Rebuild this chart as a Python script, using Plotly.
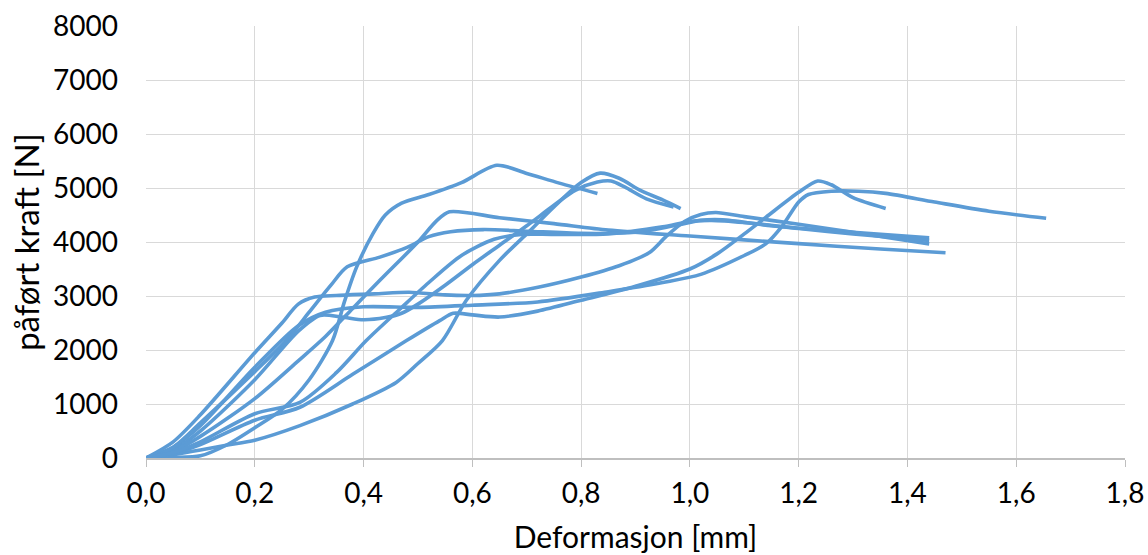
import plotly.graph_objects as go

# ---- data ----
a_x = [0, 0.05, 0.1, 0.15, 0.2, 0.25, 0.3, 0.343, 0.365, 0.387, 0.417, 0.44, 0.47, 0.52, 0.58, 0.645, 0.7, 0.76, 0.83]
a_y = [0, 10, 40, 250, 560, 900, 1450, 2175, 2900, 3530, 4150, 4500, 4720, 4880, 5100, 5420, 5270, 5090, 4900]

b_x = [0, 0.05, 0.1, 0.15, 0.2, 0.283, 0.38, 0.46, 0.5, 0.545, 0.589, 0.65, 0.7, 0.75, 0.8, 0.835, 0.87, 0.91, 0.95, 0.983]
b_y = [0, 60, 150, 240, 330, 600, 1000, 1400, 1750, 2175, 2920, 3660, 4150, 4650, 5100, 5275, 5180, 4950, 4780, 4620]

c_x = [0, 0.05, 0.1, 0.2, 0.28, 0.32, 0.36, 0.4, 0.44, 0.47, 0.5, 0.55, 0.6, 0.65, 0.7, 0.75, 0.79, 0.83, 0.855, 0.88, 0.92, 0.97]
c_y = [0, 150, 500, 1450, 2350, 2640, 2610, 2560, 2600, 2680, 2850, 3200, 3580, 3940, 4300, 4680, 4960, 5110, 5130, 5020, 4800, 4650]

d_x = [0, 0.05, 0.1, 0.2, 0.283, 0.38, 0.479, 0.54, 0.565, 0.6, 0.65, 0.72, 0.8, 0.9, 1.0, 1.05, 1.1, 1.14, 1.2, 1.235, 1.26, 1.3, 1.36]
d_y = [0, 80, 250, 700, 940, 1550, 2175, 2545, 2680, 2650, 2610, 2720, 2920, 3180, 3500, 3780, 4150, 4460, 4920, 5130, 5060, 4820, 4620]

e_x = [0, 0.05, 0.1, 0.2, 0.28, 0.33, 0.4, 0.5, 0.6, 0.72, 0.85, 0.95, 1.02, 1.1, 1.14, 1.17, 1.2, 1.218, 1.26, 1.31, 1.36, 1.45, 1.55, 1.655]
e_y = [0, 200, 600, 1680, 2450, 2700, 2800, 2790, 2830, 2890, 3080, 3250, 3400, 3750, 3970, 4300, 4740, 4880, 4940, 4940, 4900, 4740, 4570, 4440]

f_x = [0, 0.05, 0.1, 0.2, 0.28, 0.33, 0.38, 0.43, 0.5, 0.535, 0.558, 0.65, 0.75, 0.85, 1.0, 1.2, 1.35, 1.47]
f_y = [0, 120, 400, 1100, 1800, 2250, 2770, 3290, 4000, 4400, 4560, 4450, 4340, 4220, 4110, 3970, 3870, 3800]

g_x = [0, 0.05, 0.1, 0.2, 0.26, 0.3, 0.34, 0.37, 0.43, 0.48, 0.52, 0.56, 0.62, 0.7, 0.8, 0.9, 0.97, 1.02, 1.06, 1.15, 1.3, 1.44]
g_y = [0, 200, 650, 1600, 2200, 2700, 3200, 3540, 3720, 3900, 4100, 4190, 4230, 4200, 4160, 4180, 4300, 4400, 4410, 4300, 4180, 4080]

h_x = [0, 0.05, 0.1, 0.2, 0.25, 0.28, 0.31, 0.35, 0.42, 0.484, 0.55, 0.6, 0.65, 0.723, 0.8, 0.87, 0.925, 0.956, 0.99, 1.02, 1.048, 1.1, 1.2, 1.3, 1.44]
h_y = [0, 300, 800, 1950, 2500, 2850, 2980, 3010, 3040, 3070, 3020, 3010, 3040, 3165, 3350, 3560, 3800, 4100, 4380, 4510, 4545, 4470, 4330, 4180, 3965]

k_x = [0, 0.05, 0.1, 0.2, 0.283, 0.35, 0.405, 0.466, 0.52, 0.58, 0.64, 0.69, 0.75, 0.85, 0.95, 1.0, 1.04, 1.1, 1.2, 1.3, 1.44]
k_y = [0, 100, 300, 820, 1030, 1580, 2175, 2750, 3250, 3750, 4050, 4140, 4140, 4150, 4280, 4380, 4400, 4360, 4250, 4150, 4030]

x_tickvals = [0, 0.2, 0.4, 0.6, 0.8, 1.0, 1.2, 1.4, 1.6, 1.8]
x_ticktext = ["0,0", "0,2", "0,4", "0,6", "0,8", "1,0", "1,2", "1,4", "1,6", "1,8"]
y_tickvals = [0, 1000, 2000, 3000, 4000, 5000, 6000, 7000, 8000]
y_ticktext = ["0", "1000", "2000", "3000", "4000", "5000", "6000", "7000", "8000"]

x_title = "Deformasjon [mm]"
y_title = "påført kraft [N]"

series = [(a_x, a_y), (b_x, b_y), (c_x, c_y), (d_x, d_y), (e_x, e_y),
          (f_x, f_y), (g_x, g_y), (h_x, h_y), (k_x, k_y)]

LINE = "#5B9BD5"
FONT = "Lato"

fig = go.Figure()
for xs, ys in series:
    fig.add_trace(go.Scatter(x=xs, y=ys, mode="lines",
                             line=dict(color=LINE, width=3.6, shape="spline", smoothing=0.8),
                             showlegend=False, hoverinfo="skip"))

fig.update_layout(
    width=1148, height=555,
    margin=dict(l=146, r=23, t=26, b=97),
    paper_bgcolor="white", plot_bgcolor="white",
    font=dict(family=FONT, size=28, color="#000000"),
)
fig.update_xaxes(
    range=[0, 1.8], tickvals=x_tickvals, ticktext=x_ticktext,
    showgrid=True, gridcolor="#D9D9D9", gridwidth=1.3,
    zeroline=False, showline=True, linecolor="#BFBFBF", linewidth=1.5,
    ticks="outside", ticklen=7, tickcolor="#BFBFBF", tickwidth=1.3,
    ticklabelstandoff=3, automargin=False,
    title=dict(text=x_title, standoff=19, font=dict(size=30)),
)
fig.update_yaxes(
    range=[0, 8000], tickvals=y_tickvals, ticktext=y_ticktext,
    showgrid=True, gridcolor="#D9D9D9", gridwidth=1.3,
    zeroline=False, showline=False,
    ticks="", ticklabelstandoff=27, automargin=False,
    title=dict(text=y_title, standoff=3, font=dict(size=33)),
)

fig.write_html("out.html")
